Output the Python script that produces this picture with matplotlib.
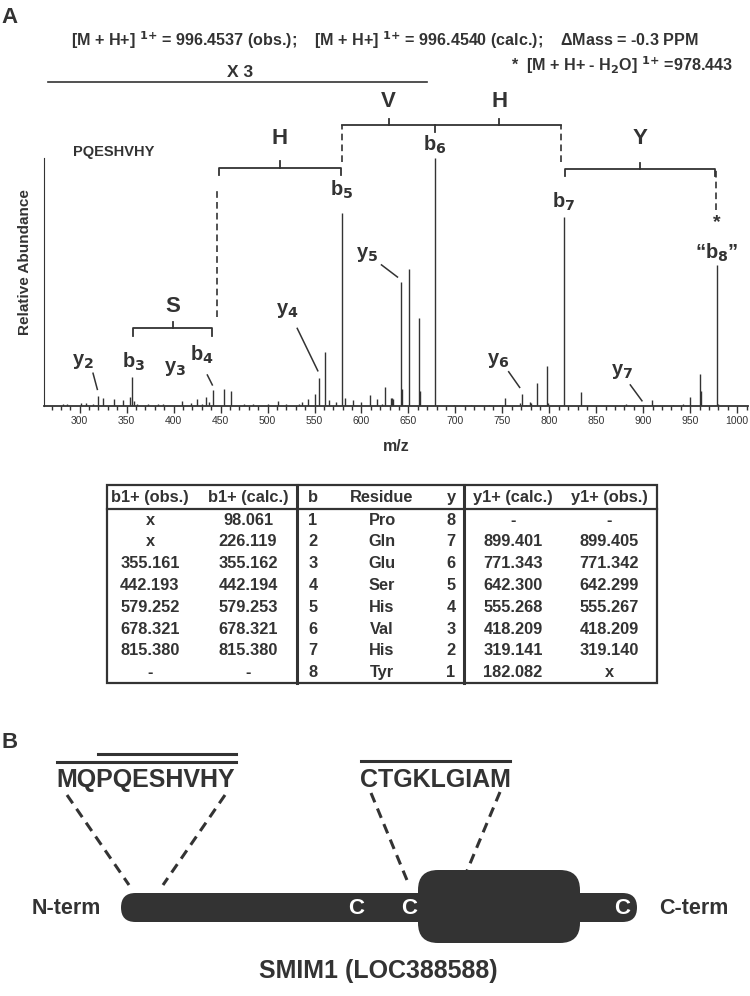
import matplotlib
matplotlib.use("Agg")
import matplotlib.pyplot as plt
from matplotlib.patches import FancyBboxPatch, Rectangle
import numpy as np

FAM = ['Liberation Sans Narrow', 'Liberation Sans', 'DejaVu Sans']
plt.rcParams['font.family'] = FAM
plt.rcParams['font.weight'] = 'bold'
plt.rcParams['mathtext.fontset'] = 'custom'
plt.rcParams['mathtext.rm'] = 'Liberation Sans Narrow:bold'
plt.rcParams['mathtext.it'] = 'Liberation Sans Narrow:bold'
plt.rcParams['mathtext.bf'] = 'Liberation Sans Narrow:bold'
INK = '#333333'

# ---- spectrum (m/z, relative intensity, b6 = 100) ----
mz = [262, 282, 286, 301, 307, 314, 319.1, 324.5, 337, 346.5, 354, 355.16, 357.5,
      361.5, 372.5, 383, 388.5, 408.5, 419, 425, 430, 434.5, 437.5, 442.19, 454,
      461.5, 475, 485, 500.5, 511, 520, 533, 536.5, 543.5, 551, 555.27, 561.5, 565,
      572.5, 579.25, 582, 591, 599, 609.5, 616, 621.5, 625, 631, 632.5, 634, 642.3,
      643.3, 646, 650.5, 661, 662, 678.32, 699, 716.5, 735.5, 747, 753, 769, 771.34,
      775, 779, 780.5, 787, 797.5, 798.6, 815.38, 833.5, 880, 881.5, 899.4, 909,
      932, 942.5, 949.5, 960.5, 961.5, 978.44, 979.5]
intensity = [0.5, 0.8, 0.8, 1.3, 1.3, 0.8, 4.0, 3.1, 2.7, 2.4, 3.8, 11.6, 2.0,
             1.0, 0.7, 0.7, 0.7, 2.0, 1.3, 2.7, 0.8, 3.5, 1.8, 6.5, 6.7,
             6.2, 0.7, 0.7, 0.7, 1.9, 0.7, 1.0, 1.7, 2.7, 4.7, 11.2, 21.6, 2.4,
             1.7, 77.8, 3.1, 2.4, 1.7, 4.4, 2.7, 0.8, 7.8, 3.1, 3.4, 3.0, 49.9,
             6.7, 0.5, 55.2, 35.4, 6.2, 100, 0.3, 0.5, 0.3, 0.4, 3.1, 1.2, 4.7,
             0.5, 1.6, 1.2, 9.1, 16.1, 1.2, 76.2, 5.8, 0.6, 0.9, 0.4, 2.4,
             0.3, 0.8, 3.5, 12.9, 6.0, 56.9, 1.0]

b_ions = {3: 355.16, 4: 442.19, 5: 579.25, 6: 678.32, 7: 815.38, 8: 978.44}

# ---- fragment table ----
tab_cols = ['b1+ (obs.)', 'b1+ (calc.)', 'b', 'Residue', 'y', 'y1+ (calc.)', 'y1+ (obs.)']
b_obs = ['x', 'x', '355.161', '442.193', '579.252', '678.321', '815.380', '-']
b_calc = ['98.061', '226.119', '355.162', '442.194', '579.253', '678.321', '815.380', '-']
b_num = ['1', '2', '3', '4', '5', '6', '7', '8']
residues = ['Pro', 'Gln', 'Glu', 'Ser', 'His', 'Val', 'His', 'Tyr']
y_num = ['8', '7', '6', '5', '4', '3', '2', '1']
y_calc = ['-', '899.401', '771.343', '642.300', '555.268', '418.209', '319.141', '182.082']
y_obs = ['-', '899.405', '771.342', '642.299', '555.267', '418.209', '319.140', 'x']

fig = plt.figure(figsize=(7.5, 9.96), dpi=100)
ov = fig.add_axes([0, 0, 1, 1])
ov.set_xlim(0, 750)
ov.set_ylim(996, 0)
ov.axis('off')

# ---------------- panel A ----------------
ov.text(10, 17, 'A', fontsize=16, family=['Liberation Sans', 'DejaVu Sans'],
        ha='center', va='center', color=INK)
ov.text(385, 40, '[M + H+] $^{1{+}}$ = 996.4537 (obs.);    [M + H+] $^{1{+}}$ = 996.4540 (calc.);    '
        '\u0394Mass = -0.3 PPM', fontsize=11.6, ha='center', va='center', color=INK)
ov.text(733, 65, '*  [M + H+ - H$_2$O] $^{1{+}}$ =978.443', fontsize=11.6,
        ha='right', va='center', color=INK)
ov.text(240, 72, 'X 3', fontsize=12.5, ha='center', va='center', color=INK)
ov.plot([48, 427], [82, 82], color=INK, lw=1.2)

ax = fig.add_axes([44 / 750, 1 - 406 / 996, 704 / 750, 248 / 996])
ax.patch.set_alpha(0)
ax.vlines(mz, 0, intensity, color=INK, lw=1.0)
ax.set_xlim(262, 1011.5)
ax.set_ylim(0, 100)
for s in ['top', 'right']:
    ax.spines[s].set_visible(False)
ax.spines['left'].set_color(INK)
ax.spines['bottom'].set_color(INK)
ax.spines['bottom'].set_linewidth(1.3)
ax.set_yticks([])
ax.set_xticks(np.arange(300, 1001, 50))
ax.set_xticks(np.arange(270, 1011, 10), minor=True)
ax.tick_params(axis='x', which='major', length=5, width=1, color=INK, labelcolor=INK,
               labelsize=7.5, pad=2)
ax.tick_params(axis='x', which='minor', length=3, width=1, color=INK)
for t in ax.get_xticklabels():
    t.set_fontweight('normal')

ov.text(396, 446, 'm/z', fontsize=11.5, ha='center', va='center', color=INK)
ov.text(25, 262, 'Relative Abundance', fontsize=11, rotation=90,
        ha='center', va='center', color=INK)


def bracket(x0, x1, y, label, ly, size=16):
    ax.plot([x0, x0, x1, x1], [y - 3.0, y, y, y - 3.0], color=INK, lw=1.3, clip_on=False)
    xc = (x0 + x1) / 2
    ax.plot([xc, xc], [y, y + 2.5], color=INK, lw=1.3, clip_on=False)
    ax.text(xc, ly, label, fontsize=size, ha='center', va='center', color=INK)


def dashed(x, y0, y1):
    ax.plot([x, x], [y0, y1], color=INK, lw=1.2, ls=(0, (4, 2.5)), clip_on=False)


bracket(b_ions[3] + 2, b_ions[4] - 1, 31.3, 'S', 40.3)
bracket(b_ions[4] + 6, b_ions[5] - 1, 96.1, 'H', 108)
bracket(b_ions[7] + 1, b_ions[8] - 2, 95.6, 'Y', 107.9)
# top bracket V / H
ax.plot([b_ions[5] - 0.5, b_ions[7] - 3], [113.3, 113.3], color=INK, lw=1.3, clip_on=False)
ax.plot([b_ions[6], b_ions[6]], [113.3, 110.3], color=INK, lw=1.3, clip_on=False)
for xc in [(b_ions[5] + b_ions[6]) / 2, (b_ions[6] + b_ions[7]) / 2]:
    ax.plot([xc, xc], [113.3, 115.8], color=INK, lw=1.3, clip_on=False)
ax.text((b_ions[5] + b_ions[6]) / 2, 122.7, 'V', fontsize=16, ha='center', va='center', color=INK)
ax.text((b_ions[6] + b_ions[7]) / 2, 122.7, 'H', fontsize=16, ha='center', va='center', color=INK)

dashed(b_ions[4] + 3.5, 36.0, 87.1)
dashed(b_ions[5] - 0.5, 98.5, 113.3)
dashed(b_ions[7] - 3, 98.5, 113.3)
dashed(b_ions[8] - 1, 79, 95.6)

ax.text(292.6, 102.5, 'PQESHVHY', fontsize=10.5, ha='left', va='center', color=INK)

ion_labels = [('b$_5$', 579, 87.1), ('b$_6$', 678.3, 105.2), ('b$_7$', 815, 82.4),
              ('\u201cb$_8$\u201d', 978.4, 61.8), ('y$_5$', 606, 60.9), ('y$_4$', 521, 38.7),
              ('y$_2$', 304, 17.9), ('b$_3$', 357.8, 17.9), ('y$_3$', 402, 15.2),
              ('b$_4$', 430.5, 20.6), ('y$_6$', 746, 18.5), ('y$_7$', 877, 13.8)]
for txt, x, y in ion_labels:
    ax.text(x, y, txt, fontsize=14.5, ha='center', va='center', color=INK, clip_on=False)
ax.text(978, 73.8, '*', fontsize=14, ha='center', va='center', color=INK)

leaders = [((314.2, 13.2), (318.8, 6.7)), ((435.9, 12.5), (441.2, 8.5)),
           ((531.6, 31.3), (553.5, 14.2)), ((621.3, 56.9), (638.3, 52.0)),
           ((756.7, 13.8), (768.4, 7.5)), ((886.2, 8.5), (898.6, 2.1))]
for (xa, ya), (xb, yb) in leaders:
    ax.plot([xa, xb], [ya, yb], color=INK, lw=1.1, clip_on=False)

# ---------------- table ----------------
tx0, tx1, ty0, ty1, thead = 107, 657, 485, 683, 509
ov.add_patch(Rectangle((tx0, ty0), tx1 - tx0, ty1 - ty0, fill=False, ec=INK, lw=1.6))
ov.plot([tx0, tx1], [thead, thead], color=INK, lw=1.6)
for xv in [297, 464]:
    ov.plot([xv, xv], [ty0, ty1], color=INK, lw=2.2)
col_x = [150, 248, 313, 382, 451, 513, 609]
ov_kw = dict(fontsize=11.8, ha='center', va='center', color=INK)
for cx, name in zip(col_x, tab_cols):
    ov.text(cx, 497, name, **ov_kw)
columns = [b_obs, b_calc, b_num, residues, y_num, y_calc, y_obs]
for i in range(8):
    ry = 520 + i * 21.8
    for cx, col in zip(col_x, columns):
        ov.text(cx, ry, col[i], **ov_kw)

# ---------------- panel B ----------------
ov.text(10, 742, 'B', fontsize=16, family=['Liberation Sans', 'DejaVu Sans'],
        ha='center', va='center', color=INK)
ov.plot([98, 236], [754, 754], color=INK, lw=2.2)
ov.plot([57, 236], [762, 762], color=INK, lw=2.2)
ov.plot([361, 510], [761, 761], color=INK, lw=2.2)
ov.text(146, 780, 'MQPQESHVHY', fontsize=18, ha='center', va='center', color=INK)
ov.text(435, 780, 'CTGKLGIAM', fontsize=18, ha='center', va='center', color=INK)

dash_kw = dict(color=INK, lw=2.2, ls=(0, (3.3, 2.2)), solid_capstyle='butt')
ov.plot([67, 129], [795, 885], **dash_kw)
ov.plot([225, 163], [795, 885], **dash_kw)
ov.plot([371, 409], [793, 885], **dash_kw)
ov.plot([500, 466.5], [792, 872], **dash_kw)

ov.add_patch(FancyBboxPatch((121, 893), 516, 29, boxstyle='round,pad=0,rounding_size=14.5',
                            fc=INK, ec='none'))
ov.add_patch(FancyBboxPatch((418, 870), 162, 73, boxstyle='round,pad=0,rounding_size=20',
                            fc=INK, ec='none'))
for cx in [356.5, 409, 622]:
    ov.text(cx, 908, 'C', fontsize=16, ha='center', va='center', color='white')
ov.text(66, 908, 'N-term', fontsize=15.5, ha='center', va='center', color=INK)
ov.text(694, 908, 'C-term', fontsize=15.5, ha='center', va='center', color=INK)
ov.text(378, 971, 'SMIM1 (LOC388588)', fontsize=18, ha='center', va='center', color=INK)

fig.savefig('out.png', dpi=100)
